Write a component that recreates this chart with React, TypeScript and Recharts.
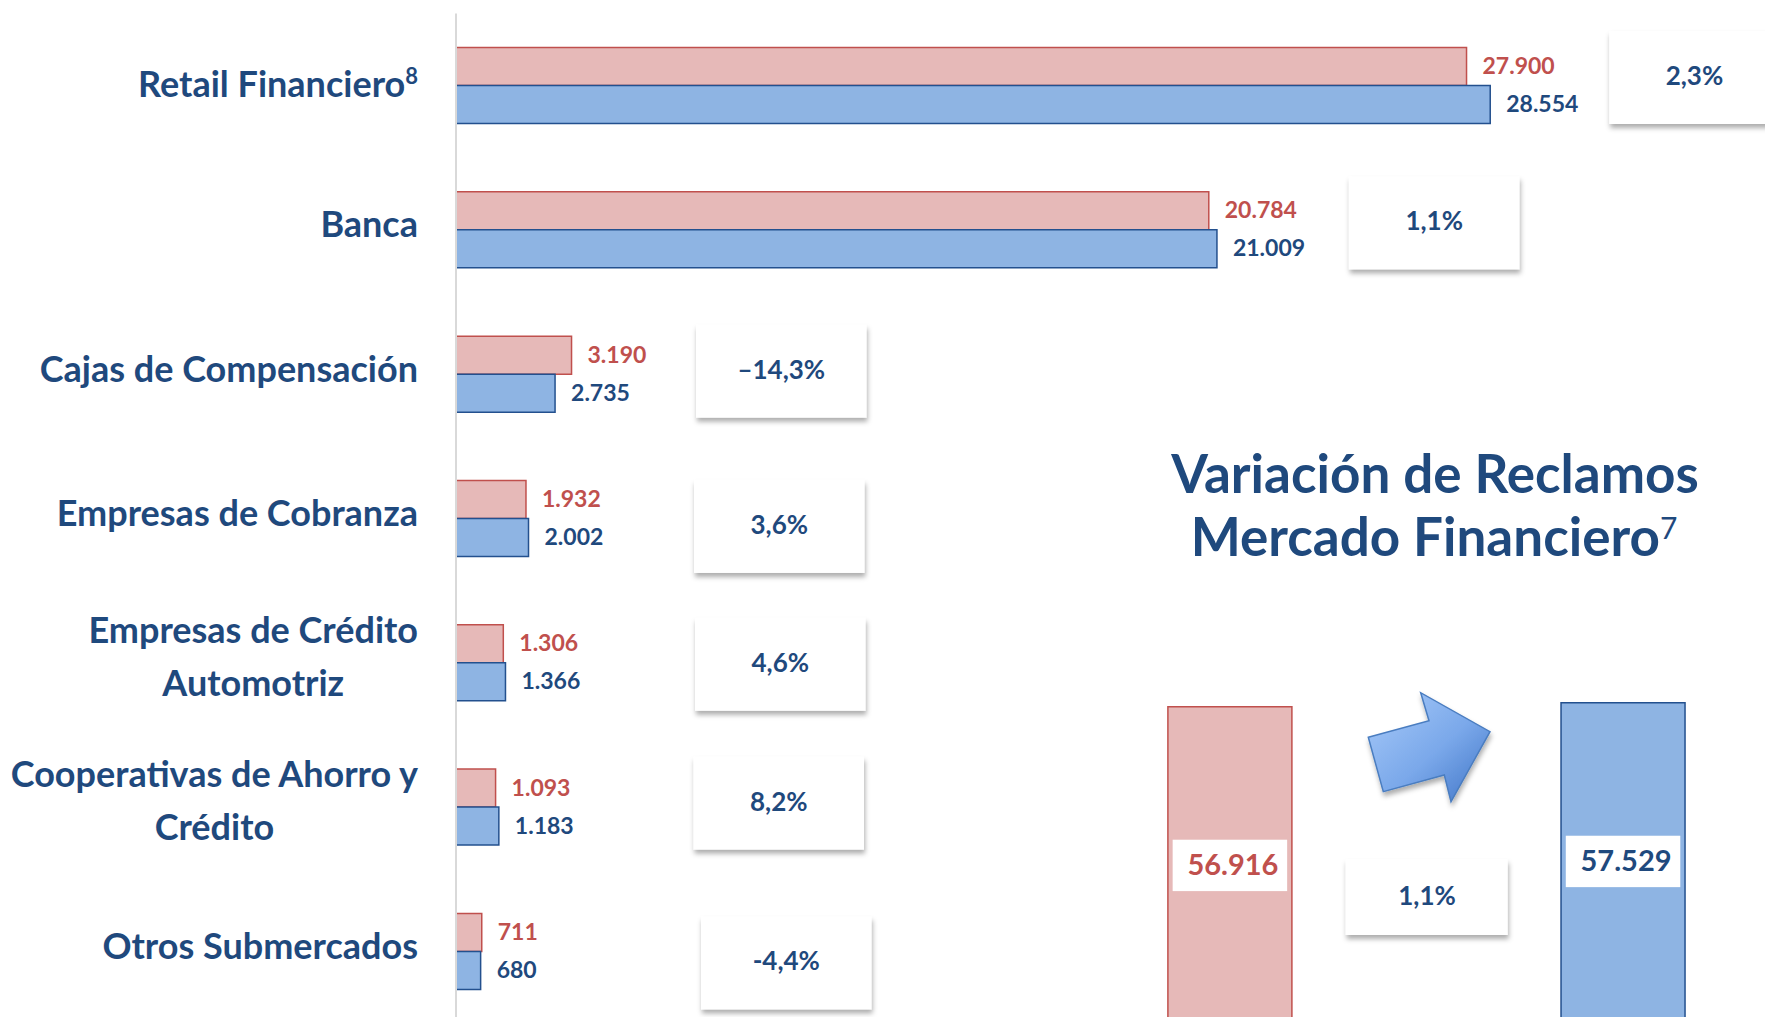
import React, { useLayoutEffect, useRef, useState } from 'react';
import { BarChart, Bar, XAxis, YAxis, LabelList, Cell } from 'recharts';

// ---------- data ----------
const categories = [
  'Retail Financiero',
  'Banca',
  'Cajas de Compensación',
  'Empresas de Cobranza',
  'Empresas de Crédito\nAutomotriz',
  'Cooperativas de Ahorro y\nCrédito',
  'Otros Submercados',
];
const categoryNotes = ['8', '', '', '', '', '', ''];
const previousValues = [27900, 20784, 3190, 1932, 1306, 1093, 711];
const currentValues = [28554, 21009, 2735, 2002, 1366, 1183, 680];
const variationLabels = ['2,3%', '1,1%', '–14,3%', '3,6%', '4,6%', '8,2%', '-4,4%'];

const totalCategories = ['Período anterior', 'Variación', 'Período actual'];
const totalValues: (number | null)[] = [56916, null, 57529];
const totalVariationLabel = '1,1%';

const titleLines = ['Variación de Reclamos', 'Mercado Financiero'];
const titleNote = '7';

// ---------- styles ----------
const FONT = 'Lato, "Open Sans", sans-serif';
const DARK = '#1f497d';
const RED = '#c0504d';
const PINK_FILL = '#e6b9b8';
const BLUE_FILL = '#8eb4e3';
const BLUE_STROKE = '#23508e';

const rows = categories.map((c, i) => ({
  name: c,
  note: categoryNotes[i],
  prev: previousValues[i],
  curr: currentValues[i],
  variation: variationLabels[i],
}));
const totalRows = totalCategories.map((c, i) => ({ name: c, value: totalValues[i] }));

const fmt = (n: number) => String(n).replace(/\B(?=(\d{3})+(?!\d))/g, '.');

// small nudges of the variation boxes (decoration layout)
const boxNudge = [
  { dx: -6, dy: -8 },
  { dx: 7, dy: -7 },
  { dx: 1, dy: -3 },
  { dx: -1, dy: 8 },
  { dx: 0, dy: 1.5 },
  { dx: -1.5, dy: -4 },
  { dx: 6, dy: 11.5 },
];

function CatTick(props: any) {
  const { x, y, payload, index } = props;
  const label: string = payload.value;
  const lines = label.split('\n');
  const note = categoryNotes[index] || '';
  const ref = useRef<SVGTextElement>(null);
  const [w1, setW1] = useState(lines[0].length * 17);
  useLayoutEffect(() => {
    if (ref.current && lines.length > 1) {
      const w = ref.current.getComputedTextLength();
      if (Math.abs(w - w1) > 0.5) setW1(w);
    }
  });
  const common = { fill: DARK, fontSize: 36, fontWeight: 700, fontFamily: FONT } as any;
  if (lines.length === 1) {
    return (
      <text x={x} y={y + (note ? 11 : 7.5)} textAnchor="end" {...common}>
        {lines[0]}
        {note ? (
          <tspan fontSize={22} dy={-13}>
            {note}
          </tspan>
        ) : null}
      </text>
    );
  }
  return (
    <g>
      <text ref={ref} x={x} y={y - 20} textAnchor="end" {...common}>
        {lines[0]}
      </text>
      <text x={x - w1 / 2} y={y + 33} textAnchor="middle" {...common}>
        {lines[1]}
      </text>
    </g>
  );
}

const makeValueLabel = (color: string) => (props: any) => {
  const { x, y, width, height, value } = props;
  return (
    <text
      x={x + width + 16}
      y={y + height / 2 + 7.5}
      fill={color}
      fontSize={23}
      fontWeight={700}
      fontFamily={FONT}
    >
      {fmt(value)}
    </text>
  );
};

const VariationBox = (props: any) => {
  const { x, y, width, index } = props;
  const n = boxNudge[index] || { dx: 0, dy: 0 };
  const bw = 170.5;
  const bh = 93;
  const left = Math.max(695, x + width + 125) + n.dx;
  const cy = y + n.dy; // blue bar top == category centre
  return (
    <g>
      <rect x={left} y={cy - bh / 2} width={bw} height={bh} fill="#ffffff" filter="url(#boxShadow)" />
      <text
        x={left + bw / 2}
        y={cy + 7.5}
        textAnchor="middle"
        fill={DARK}
        fontSize={26}
        fontWeight={700}
        fontFamily={FONT}
      >
        {rows[index].variation}
      </text>
    </g>
  );
};

const TotalLabel = (props: any) => {
  const { x, y, width, value, index } = props;
  if (value == null) return null;
  const bw = 114.5;
  const bh = 51.4;
  const cx = x + width / 2;
  const top = y + 133;
  return (
    <g>
      <rect x={cx - bw / 2} y={top} width={bw} height={bh} fill="#ffffff" />
      <text
        x={cx + 3}
        y={top + 35}
        textAnchor="middle"
        fill={index === 0 ? RED : DARK}
        fontSize={29}
        fontWeight={700}
        fontFamily={FONT}
      >
        {fmt(value)}
      </text>
    </g>
  );
};

export default function App() {
  return (
    <div
      style={{
        position: 'absolute',
        left: 0,
        top: 0,
        width: 1765,
        height: 1017,
        overflow: 'hidden',
        background: '#ffffff',
        fontFamily: FONT,
      }}
    >
      <svg width={0} height={0} style={{ position: 'absolute' }}>
        <defs>
          <filter id="boxShadow" x="-20%" y="-20%" width="140%" height="160%">
            <feDropShadow dx="1" dy="4" stdDeviation="2.5" floodColor="#000" floodOpacity="0.32" />
          </filter>
          <linearGradient id="arrowGrad" x1="0" y1="0" x2="1" y2="1">
            <stop offset="0%" stopColor="#a9cbf9" />
            <stop offset="55%" stopColor="#7aa8ea" />
            <stop offset="100%" stopColor="#3f74c6" />
          </linearGradient>
        </defs>
      </svg>

      <div style={{ position: 'absolute', left: 0, top: 0 }}>
        <BarChart
          width={1765}
          height={1040}
          data={rows}
          layout="vertical"
          margin={{ top: 13.5, right: 41.3, bottom: 16.3, left: 0 }}
          barGap={0}
        >
          <XAxis type="number" domain={[0, 35000]} hide />
          <YAxis
            type="category"
            dataKey="name"
            width={456}
            axisLine={{ stroke: '#d9d9d9', strokeWidth: 2 }}
            tickLine={false}
            tickSize={0}
            tickMargin={38}
            interval={0}
            tick={(p: any) => <CatTick {...p} />}
          />
          <Bar
            dataKey="prev"
            name="Período anterior"
            fill={PINK_FILL}
            stroke={RED}
            strokeWidth={1.5}
            barSize={38}
            isAnimationActive={false}
          >
            <LabelList dataKey="prev" content={makeValueLabel(RED)} />
          </Bar>
          <Bar
            dataKey="curr"
            name="Período actual"
            fill={BLUE_FILL}
            stroke={BLUE_STROKE}
            strokeWidth={1.5}
            barSize={38}
            isAnimationActive={false}
          >
            <LabelList dataKey="curr" content={makeValueLabel(DARK)} />
            <LabelList dataKey="curr" content={VariationBox} />
          </Bar>
        </BarChart>
      </div>

      <div style={{ position: 'absolute', left: 1100, top: 380 }}>
        <BarChart
          width={665}
          height={720}
          data={totalRows}
          margin={{ top: 306.7, right: 43.4, bottom: 24, left: 31.9 }}
        >
          <XAxis type="category" dataKey="name" hide />
          <YAxis type="number" domain={[0, 60000]} hide />
          <Bar dataKey="value" barSize={124} strokeWidth={1.5} isAnimationActive={false}>
            {totalRows.map((r, i) => (
              <Cell
                key={r.name}
                fill={i === 0 ? PINK_FILL : BLUE_FILL}
                stroke={i === 0 ? RED : BLUE_STROKE}
              />
            ))}
            <LabelList dataKey="value" content={TotalLabel} />
          </Bar>
        </BarChart>
      </div>

      <svg
        width={1765}
        height={1017}
        style={{ position: 'absolute', left: 0, top: 0, pointerEvents: 'none' }}
      >
        <text
          x={1435}
          y={493.3}
          textAnchor="middle"
          fill={DARK}
          fontSize={53}
          fontWeight={700}
          fontFamily={FONT}
        >
          {titleLines[0]}
        </text>
        <text
          x={1434}
          y={555.5}
          textAnchor="middle"
          fill={DARK}
          fontSize={53}
          fontWeight={700}
          fontFamily={FONT}
        >
          {titleLines[1]}
          <tspan fontSize={30} fontWeight={400} dy={-17}>
            {titleNote}
          </tspan>
        </text>

        <polygon
          points="1368.3,737.3 1429,720.7 1420.7,692.7 1490,731.7 1451,801.7 1444.3,775 1383.3,791.7"
          fill="url(#arrowGrad)"
          stroke="#4a7dc0"
          strokeWidth={1.5}
          strokeLinejoin="miter"
          filter="url(#boxShadow)"
        />

        <rect x={1345.7} y={859.3} width={162} height={75.7} fill="#ffffff" filter="url(#boxShadow)" />
        <text
          x={1427}
          y={905}
          textAnchor="middle"
          fill={DARK}
          fontSize={26}
          fontWeight={700}
          fontFamily={FONT}
        >
          {totalVariationLabel}
        </text>
      </svg>
    </div>
  );
}
